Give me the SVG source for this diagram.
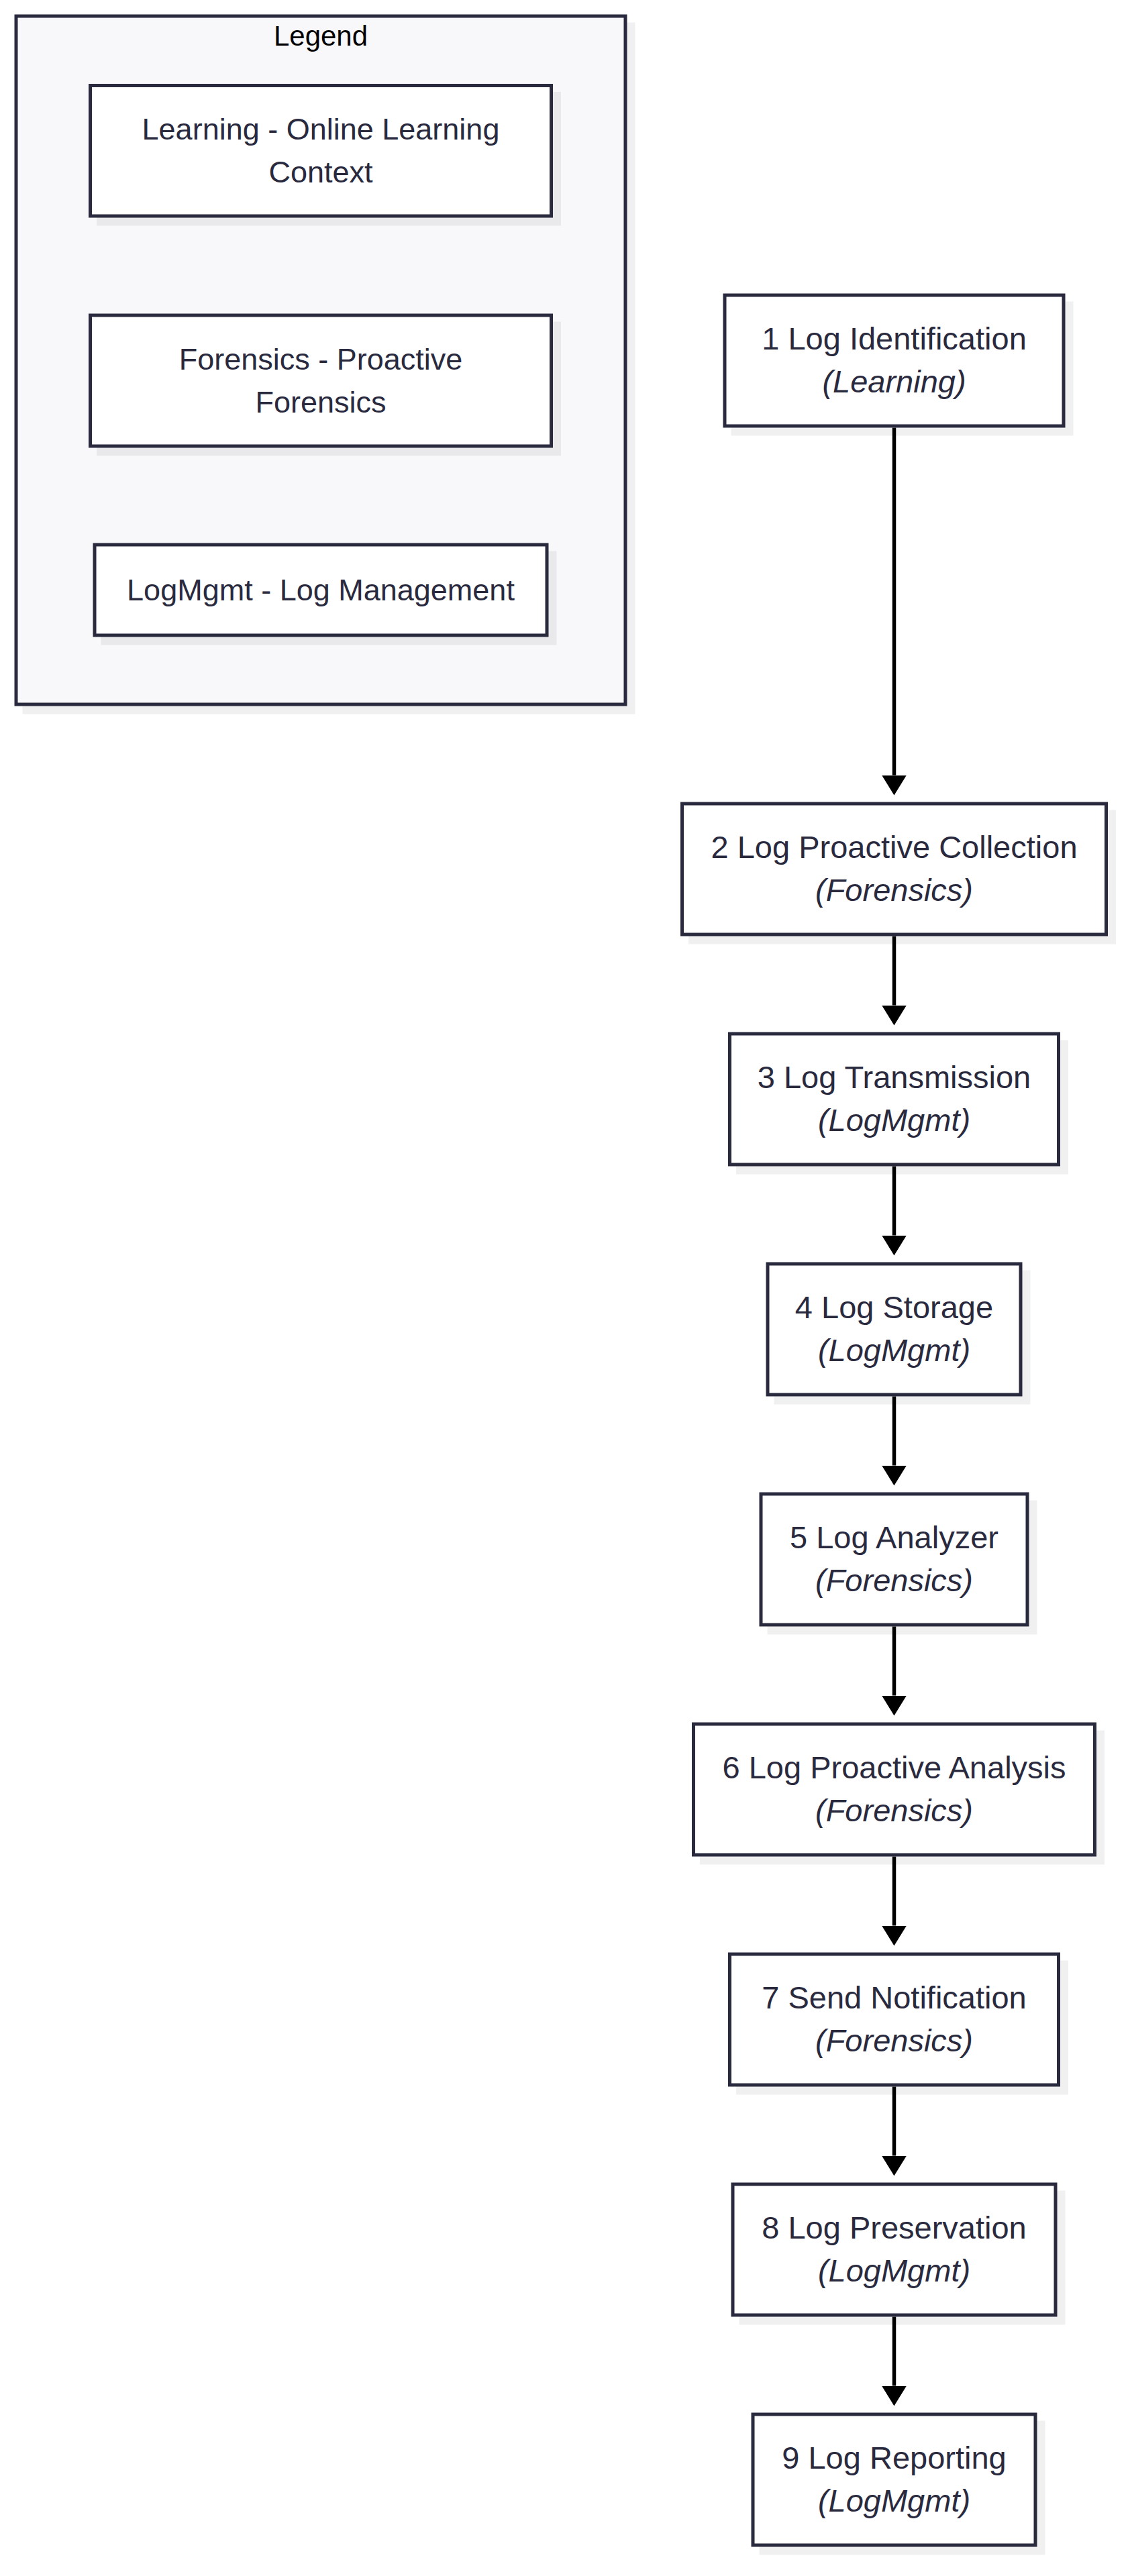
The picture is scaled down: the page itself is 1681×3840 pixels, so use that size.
<svg xmlns="http://www.w3.org/2000/svg" width="1681" height="3840" viewBox="0 0 1681 3840">
<defs>
<style>
.bg{fill:#ffffff}
.frame{fill:#f8f8fa;stroke:#2a2a3f;stroke-width:5}
.box{fill:#ffffff;stroke:#2a2a3f;stroke-width:5}
.shadow{fill:#000000;fill-opacity:0.06}
.t{font-family:"Liberation Sans",Arial,sans-serif;font-size:47px;fill:#2a2a3f;text-anchor:middle}
.l{font-size:45px}
.i{font-style:italic}
.title{font-family:"Liberation Sans",Arial,sans-serif;font-size:42px;fill:#000000;text-anchor:middle}
.edge{fill:none;stroke:#000000;stroke-width:5.5}
</style>
<marker id="arrow" markerUnits="userSpaceOnUse" markerWidth="31" markerHeight="37" refX="0" refY="18.5" orient="auto" viewBox="0 0 31 37">
<path d="M0,0 L30,18.5 L0,37 Z" fill="#000000"/>
</marker>
</defs>
<rect class="bg" x="0" y="0" width="1681" height="3840"/>

<g id="legend">
<rect class="shadow" x="33.5" y="33.5" width="913" height="1031"/>
<rect class="frame" x="24" y="24" width="908" height="1026"/>
<text class="title" x="478" y="68">Legend</text>
<g id="legend-learning">
<rect class="shadow" x="144" y="137" width="692" height="199.5"/>
<rect class="box" x="134.5" y="127.5" width="687" height="194.5"/>
<text class="t l" x="478" y="207.5">Learning - Online Learning</text>
<text class="t l" x="478" y="271.5">Context</text>
</g>
<g id="legend-forensics">
<rect class="shadow" x="144" y="479.5" width="692" height="200"/>
<rect class="box" x="134.5" y="470" width="687" height="195"/>
<text class="t l" x="478" y="550.5">Forensics - Proactive</text>
<text class="t l" x="478" y="614.5">Forensics</text>
</g>
<g id="legend-logmgmt">
<rect class="shadow" x="150.5" y="821.5" width="679" height="140"/>
<rect class="box" x="141" y="812" width="674" height="135"/>
<text class="t l" x="478" y="895">LogMgmt - Log Management</text>
</g>
</g>

<g id="connectors">
<path class="edge" d="M1332.5,637.5 L1332.5,1155.5" marker-end="url(#arrow)"/>
<path class="edge" d="M1332.5,1395.5 L1332.5,1498.5" marker-end="url(#arrow)"/>
<path class="edge" d="M1332.5,1738.5 L1332.5,1841.5" marker-end="url(#arrow)"/>
<path class="edge" d="M1332.5,2081.5 L1332.5,2184.5" marker-end="url(#arrow)"/>
<path class="edge" d="M1332.5,2424.5 L1332.5,2527.5" marker-end="url(#arrow)"/>
<path class="edge" d="M1332.5,2767.5 L1332.5,2870.5" marker-end="url(#arrow)"/>
<path class="edge" d="M1332.5,3110.5 L1332.5,3213.5" marker-end="url(#arrow)"/>
<path class="edge" d="M1332.5,3453.5 L1332.5,3556.5" marker-end="url(#arrow)"/>
</g>

<g id="n1">
<rect class="shadow" x="1089.5" y="449.5" width="510" height="200"/>
<rect class="box" x="1080" y="440" width="505" height="195"/>
<text class="t" x="1332.5" y="521">1 Log Identification</text>
<text class="t i" x="1332.5" y="585">(Learning)</text>
</g>
<g id="n2">
<rect class="shadow" x="1026" y="1207.5" width="637" height="200"/>
<rect class="box" x="1016.5" y="1198" width="632" height="195"/>
<text class="t" x="1332.5" y="1279">2 Log Proactive Collection</text>
<text class="t i" x="1332.5" y="1343">(Forensics)</text>
</g>
<g id="n3">
<rect class="shadow" x="1097" y="1550.5" width="495" height="200"/>
<rect class="box" x="1087.5" y="1541" width="490" height="195"/>
<text class="t" x="1332.5" y="1622">3 Log Transmission</text>
<text class="t i" x="1332.5" y="1686">(LogMgmt)</text>
</g>
<g id="n4">
<rect class="shadow" x="1153.5" y="1893.5" width="382" height="200"/>
<rect class="box" x="1144" y="1884" width="377" height="195"/>
<text class="t" x="1332.5" y="1965">4 Log Storage</text>
<text class="t i" x="1332.5" y="2029">(LogMgmt)</text>
</g>
<g id="n5">
<rect class="shadow" x="1143.5" y="2236.5" width="402" height="200"/>
<rect class="box" x="1134" y="2227" width="397" height="195"/>
<text class="t" x="1332.5" y="2308">5 Log Analyzer</text>
<text class="t i" x="1332.5" y="2372">(Forensics)</text>
</g>
<g id="n6">
<rect class="shadow" x="1043" y="2579.5" width="603" height="200"/>
<rect class="box" x="1033.5" y="2570" width="598" height="195"/>
<text class="t" x="1332.5" y="2651">6 Log Proactive Analysis</text>
<text class="t i" x="1332.5" y="2715">(Forensics)</text>
</g>
<g id="n7">
<rect class="shadow" x="1097" y="2922.5" width="495" height="200"/>
<rect class="box" x="1087.5" y="2913" width="490" height="195"/>
<text class="t" x="1332.5" y="2994">7 Send Notification</text>
<text class="t i" x="1332.5" y="3058">(Forensics)</text>
</g>
<g id="n8">
<rect class="shadow" x="1101.5" y="3265.5" width="486" height="200"/>
<rect class="box" x="1092" y="3256" width="481" height="195"/>
<text class="t" x="1332.5" y="3337">8 Log Preservation</text>
<text class="t i" x="1332.5" y="3401">(LogMgmt)</text>
</g>
<g id="n9">
<rect class="shadow" x="1131.5" y="3608.5" width="426" height="200"/>
<rect class="box" x="1122" y="3599" width="421" height="195"/>
<text class="t" x="1332.5" y="3680">9 Log Reporting</text>
<text class="t i" x="1332.5" y="3744">(LogMgmt)</text>
</g>
</svg>
